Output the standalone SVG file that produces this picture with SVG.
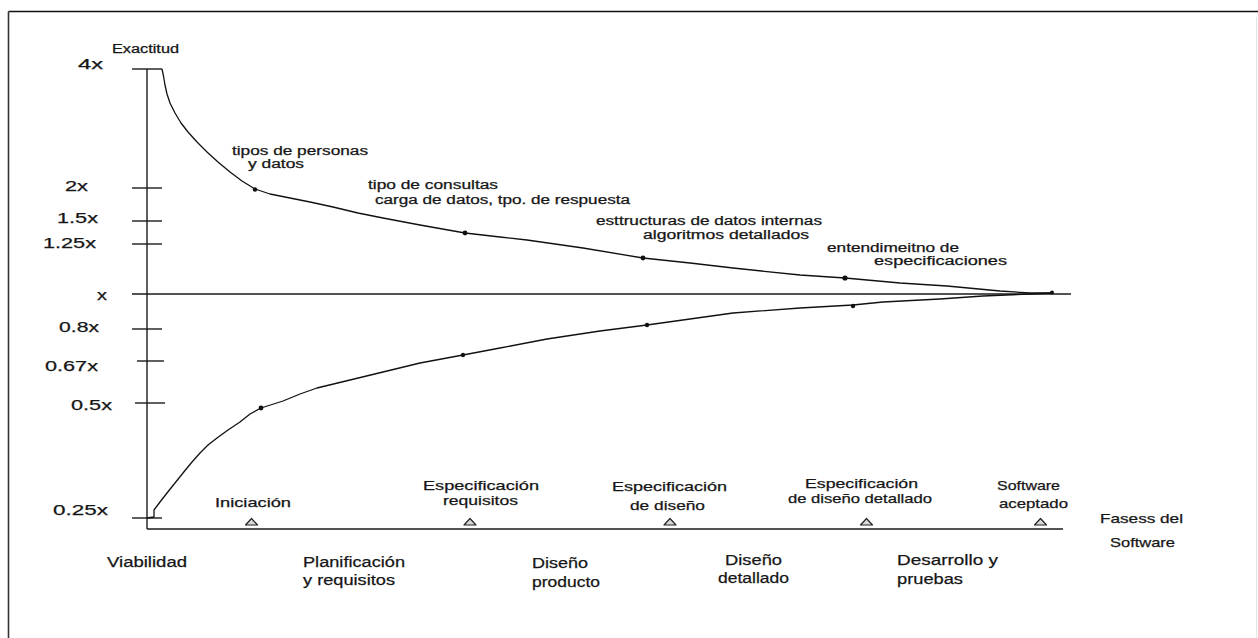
<svg xmlns="http://www.w3.org/2000/svg" width="1258" height="638" viewBox="0 0 1258 638">
<style>
text{font-family:"Liberation Sans",Arial,sans-serif;fill:#161616;stroke:#161616;stroke-width:0.25}
.ax{font-size:15px}
.an{font-size:12px}
.ms{font-size:13px}
.ph{font-size:15.5px}
.ln{stroke:#1a1a1a;stroke-width:1.4;fill:none}
.cv{stroke:#111;stroke-width:1.3;fill:none;stroke-linejoin:round}
.dot{fill:#111}
.tri{fill:#d8d8d8;stroke:#222;stroke-width:1.2;stroke-linejoin:round}
</style>
<rect width="1258" height="638" fill="#fff"/>
<g id="frame">
<line x1="8.5" y1="11.5" x2="1258" y2="11.5" stroke="#111" stroke-width="1.6"/>
<line x1="8.5" y1="11.5" x2="8.5" y2="638" stroke="#333" stroke-width="1.6"/>
<line x1="1256.5" y1="17" x2="1256.5" y2="638" stroke="#e4e4e4" stroke-width="1"/>
</g>
<g id="axes">
<line class="ln" x1="147" y1="69" x2="147" y2="529"/>
<line class="ln" x1="147" y1="529" x2="1063" y2="529"/>
<line class="ln" x1="132" y1="294" x2="1071" y2="294"/>
<line class="ln" x1="132" y1="69" x2="162" y2="69"/>
<line class="ln" x1="132" y1="188" x2="162" y2="188"/>
<line class="ln" x1="132" y1="221" x2="162" y2="221"/>
<line class="ln" x1="132" y1="244" x2="162" y2="244"/>
<line class="ln" x1="132" y1="329" x2="162" y2="329"/>
<line class="ln" x1="137" y1="361" x2="164" y2="361"/>
<line class="ln" x1="135" y1="403" x2="165" y2="403"/>
<line class="ln" x1="132" y1="518" x2="162" y2="518"/>
</g>
<g id="axis-labels">
<text class="an" x="112" y="53" textLength="67" lengthAdjust="spacingAndGlyphs" font-size="13">Exactitud</text>
<text class="ax" x="78" y="69" textLength="25" lengthAdjust="spacingAndGlyphs">4x</text>
<text class="ax" x="65" y="191" textLength="23" lengthAdjust="spacingAndGlyphs">2x</text>
<text class="ax" x="57" y="223" textLength="41" lengthAdjust="spacingAndGlyphs">1.5x</text>
<text class="ax" x="43" y="248" textLength="53" lengthAdjust="spacingAndGlyphs">1.25x</text>
<text class="ax" x="97" y="300" textLength="10" lengthAdjust="spacingAndGlyphs">x</text>
<text class="ax" x="59" y="332" textLength="40" lengthAdjust="spacingAndGlyphs">0.8x</text>
<text class="ax" x="45" y="371" textLength="53" lengthAdjust="spacingAndGlyphs">0.67x</text>
<text class="ax" x="71" y="410" textLength="41" lengthAdjust="spacingAndGlyphs">0.5x</text>
<text class="ax" x="53" y="515" textLength="55" lengthAdjust="spacingAndGlyphs">0.25x</text>
</g>
<g id="upper-curve">
<polyline class="cv" points="162,69 163.5,76 165,85 167,94 170,103 175,113 181,123 188,132 197,142 207,152 218,162 230,172 242,181 255,189 270,194 290,198 310,202 333,207 358,213 383,218 420,225 465,233 500,237 527,240 583,248 643,258 690,263 733,268 800,275 845,278 900,283 947,286 1000,291 1030,293 1052,293"/>
<circle class="dot" cx="255" cy="189.5" r="2.2"/>
<circle class="dot" cx="465" cy="233" r="2.4"/>
<circle class="dot" cx="643" cy="258" r="2.4"/>
<circle class="dot" cx="845" cy="278" r="2.6"/>
<circle class="dot" cx="1052" cy="292.5" r="2"/>
</g>
<g id="lower-curve">
<polyline class="cv" points="147,518 154,517 154,510 160,502 167,493 175,483 183,473 192,462 200,453 208,445 217,438 228,430 240,422 250,414 261,408 283,401 300,394 317,388 350,380 383,372 420,363 463,355 500,348 547,339 600,331 647,325 690,319 733,313 800,308 853,305 883,302 940,299 983,296 1030,294 1052,293"/>
<circle class="dot" cx="261" cy="408" r="2.4"/>
<circle class="dot" cx="463" cy="355" r="2.2"/>
<circle class="dot" cx="647" cy="325" r="2.2"/>
<circle class="dot" cx="853" cy="306" r="2.2"/>
</g>
<g id="curve-notes">
<text class="an" x="232" y="155" textLength="136" lengthAdjust="spacingAndGlyphs">tipos de personas</text>
<text class="an" x="248" y="168" textLength="56" lengthAdjust="spacingAndGlyphs">y datos</text>
<text class="an" x="368" y="189" textLength="130" lengthAdjust="spacingAndGlyphs">tipo de consultas</text>
<text class="an" x="375" y="204" textLength="255" lengthAdjust="spacingAndGlyphs">carga de datos, tpo. de respuesta</text>
<text class="an" x="596" y="225" textLength="226" lengthAdjust="spacingAndGlyphs">esttructuras de datos internas</text>
<text class="an" x="643" y="239" textLength="166" lengthAdjust="spacingAndGlyphs">algoritmos detallados</text>
<text class="an" x="827" y="252" textLength="132" lengthAdjust="spacingAndGlyphs">entendimeitno de</text>
<text class="an" x="874" y="265" textLength="133" lengthAdjust="spacingAndGlyphs">especificaciones</text>
</g>
<g id="milestones">
<text class="ms" x="215" y="507" textLength="76" lengthAdjust="spacingAndGlyphs">Iniciación</text>
<polygon class="tri" points="245.5,525 251.5,518.5 257.5,525"/>
<text class="ms" x="423" y="490" textLength="116" lengthAdjust="spacingAndGlyphs">Especificación</text>
<text class="ms" x="443" y="505" textLength="75" lengthAdjust="spacingAndGlyphs">requisitos</text>
<polygon class="tri" points="464,525 470,518.5 476,525"/>
<text class="ms" x="612" y="491" textLength="115" lengthAdjust="spacingAndGlyphs">Especificación</text>
<text class="ms" x="630" y="510" textLength="75" lengthAdjust="spacingAndGlyphs">de diseño</text>
<polygon class="tri" points="664,525 670,518.5 676,525"/>
<text class="ms" x="805" y="488" textLength="113" lengthAdjust="spacingAndGlyphs">Especificación</text>
<text class="ms" x="788" y="503" textLength="144" lengthAdjust="spacingAndGlyphs">de diseño detallado</text>
<polygon class="tri" points="860.5,525 866.5,518.5 872.5,525"/>
<text class="ms" x="997" y="490" textLength="63" lengthAdjust="spacingAndGlyphs">Software</text>
<text class="ms" x="999" y="508" textLength="69" lengthAdjust="spacingAndGlyphs">aceptado</text>
<polygon class="tri" points="1034.5,525 1040.5,518.5 1046.5,525"/>
</g>
<g id="phases">
<text class="ph" x="107" y="567" textLength="80" lengthAdjust="spacingAndGlyphs">Viabilidad</text>
<text class="ph" x="303" y="567" textLength="102" lengthAdjust="spacingAndGlyphs">Planificación</text>
<text class="ph" x="303" y="585" textLength="92" lengthAdjust="spacingAndGlyphs">y requisitos</text>
<text class="ph" x="532" y="568" textLength="56" lengthAdjust="spacingAndGlyphs">Diseño</text>
<text class="ph" x="532" y="587" textLength="68" lengthAdjust="spacingAndGlyphs">producto</text>
<text class="ph" x="725" y="565" textLength="57" lengthAdjust="spacingAndGlyphs">Diseño</text>
<text class="ph" x="718" y="583" textLength="71" lengthAdjust="spacingAndGlyphs">detallado</text>
<text class="ph" x="897" y="565" textLength="101" lengthAdjust="spacingAndGlyphs">Desarrollo y</text>
<text class="ph" x="897" y="584" textLength="66" lengthAdjust="spacingAndGlyphs">pruebas</text>
<text class="ms" x="1100" y="523" textLength="83" lengthAdjust="spacingAndGlyphs">Fasess del</text>
<text class="ms" x="1110" y="547" textLength="65" lengthAdjust="spacingAndGlyphs">Software</text>
</g>
</svg>
